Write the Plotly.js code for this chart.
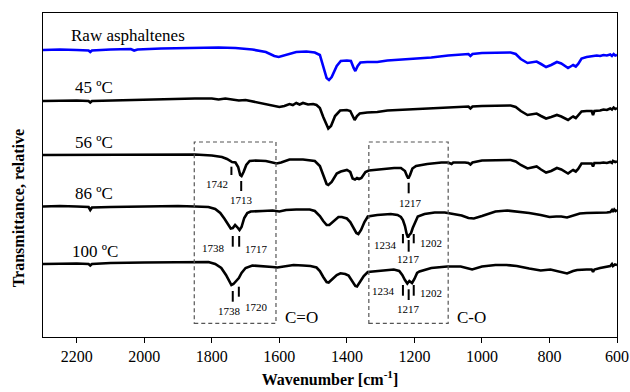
<!DOCTYPE html>
<html>
<head>
<meta charset="utf-8">
<script src="https://cdn.plot.ly/plotly-3.0.1.min.js"></script>
<style>html,body{margin:0;padding:0;background:#fff;}#chart{width:630px;height:392px;}</style>
</head>
<body>
<div id="chart"></div>
<script>
// Wavenumbers (cm-1) and relative transmittance (arbitrary, offset stacked)
const rawW = [2300,2250,2200,2165,2160,2155,2100,2040,2030,2020,1950,1850,1780,1730,1680,1640,1615,1602,1585,1550,1520,1495,1480,1470,1460,1453,1445,1430,1418,1400,1388,1380,1375,1368,1360,1340,1310,1280,1200,1150,1100,1060,1040,1034,1028,1000,950,915,900,885,865,850,838,825,810,795,778,765,745,735,730,722,715,705,690,670,660,650,640,630,620,615,610,605,600];
const rawT = [287,287.5,287,286.5,285,286.5,287.5,288,286.5,287.5,288.5,289.5,289.5,289,287.5,285,281,280,281.5,285,285.5,284.5,282,271,259,257,260,271,276,276.5,276,269,266,271,274.5,275,275,276.5,278,279.5,281.5,282.5,283,281,283,284,284.5,284.5,283,278,274,275,275.5,273,270,272,275,273.5,269,271,272,270.5,273,278.5,280,281,281.5,281,282,281.5,282.5,281,283,281.5,282];

const t45W = [2300,2250,2200,2165,2160,2155,2100,2000,1900,1850,1800,1780,1760,1740,1720,1700,1680,1660,1640,1620,1600,1585,1570,1560,1550,1540,1530,1515,1500,1490,1480,1470,1460,1455,1447,1435,1420,1400,1390,1382,1377,1370,1362,1340,1310,1280,1200,1150,1100,1040,1034,1028,1000,950,915,900,885,865,850,838,825,810,795,778,765,745,735,730,722,715,705,690,675,671,667,650,640,630,620,615,610,605,600];
const t45T = [236,236.5,236.5,236,234.5,236,236.5,237.5,238,238.5,238.5,237.5,238.5,237.5,236.5,237,235.5,234.5,233,231,230,231,233,232,234,232.5,234,232.5,233,232,229,220,211,208.5,211,221,226.5,227,226,220,217,221,223.5,224.5,225,226.5,228,229,229.5,230.5,228.5,230.5,231,231.5,231.5,230,226,222,223,223.5,221,218.5,220,222,220.5,217,219.5,220.5,219,221.5,225.5,226,226,222,226,226.5,227.5,227,228.5,227.5,229.5,228,229];

const t56W = [2300,2200,2100,2000,1900,1850,1800,1770,1755,1745,1740,1730,1722,1716,1712,1706,1698,1688,1670,1640,1620,1608,1595,1570,1530,1510,1495,1480,1470,1460,1455,1445,1430,1418,1400,1390,1383,1376,1370,1364,1357,1345,1335,1300,1260,1240,1228,1222,1218,1213,1206,1195,1162,1120,1100,1090,1085,1050,1040,1034,1028,1000,950,915,900,885,865,850,838,825,810,795,778,765,745,735,730,722,715,705,690,675,671,667,650,640,630,620,615,612,605,600];
const t56T = [182,182,182.5,182.5,182.5,182.5,181.5,180,178,176,175,174.5,170,162,161,165,172,176,176.5,176,174.5,173.5,174.5,177.5,177.5,177,176,171,161,153,152,155,163.5,165.5,167,165,158.5,157.5,159,158,159,165,166.5,168,169,169,166,161,158.5,162,168.5,171,173,174.5,174.5,173,174.5,174.5,174,172.5,174.5,176.5,177,177,175.5,172,168.5,170,170.5,167.5,164.5,166,169,167.5,163.5,166,167,165.5,168,173.5,173.5,173.5,170.5,174,174,174.5,174,175,174,176,175,175.5];

const t86W = [2300,2250,2200,2165,2160,2155,2100,2000,1900,1850,1810,1790,1775,1762,1752,1744,1738,1731,1725,1718,1712,1704,1695,1685,1650,1620,1600,1580,1550,1510,1495,1480,1470,1460,1452,1440,1425,1415,1400,1390,1380,1372,1366,1358,1348,1338,1310,1270,1250,1240,1234,1228,1223,1219,1215,1210,1205,1198,1190,1170,1140,1110,1080,1060,1040,1024,1000,960,925,897,860,826,800,780,765,748,730,710,690,670,650,630,620,615,612,608,604,600];
const t86T = [130.5,131,130.5,130,127,129.5,130,130.5,131,130.5,130,128,124,118,112,108.5,109,112,110,107,110,119,124,125.5,126,126.5,125.5,127,127.5,127.5,126,121,116,112,112,116,120,120,118.5,115,109,104,103,107,115,120.5,122,123,122,120,117,111,103,99.5,102,104,109,115,120.5,123,124.5,124.5,123,121.5,119,118.5,121,125.5,126.5,125.5,124,122,120,120.5,120.5,119.5,121.5,123.5,124,124,124.5,124.5,125,127,125,127.5,126,127];

const t100W = [2300,2250,2200,2165,2160,2155,2100,2000,1900,1850,1810,1790,1772,1758,1748,1742,1736,1728,1720,1712,1700,1680,1650,1620,1606,1580,1558,1530,1508,1490,1480,1470,1460,1454,1445,1430,1419,1405,1395,1385,1375,1370,1362,1350,1338,1300,1261,1245,1236,1228,1221,1215,1207,1200,1192,1185,1150,1103,1063,1040,1029,1000,960,927,897,860,826,797,770,748,730,718,690,675,671,667,650,630,620,615,612,606,600];
const t100T = [73,73.5,73.5,73,71.5,73,74,74.5,75,75.5,75,73,69,62,55,52,53,56,59,64,69,71.5,71,70,69.5,71,72,71.5,71,69.5,66,60,55,54.5,57,62,63.7,63,61.5,56,51,50.5,55,61,65,66.5,67.5,66,62,57,53.5,56,54,58,64,65.5,69,70.5,70.5,68.5,67.5,70.5,72,72,71,68.5,66.5,67.5,65.5,63.5,66,67,67.5,67.5,65,67.5,69,70.5,71,73,71,72.5,72];

const seriesNames = ["Raw asphaltenes", "45 ºC", "56 ºC", "86 ºC", "100 ºC"];
const seriesW = [rawW, t45W, t56W, t86W, t100W];
const seriesT = [rawT, t45T, t56T, t86T, t100T];
const seriesColors = ["#0000FF", "#000000", "#000000", "#000000", "#000000"];

// band labels: [text, wavenumber of label, y of label]
const bandLabels = [
  ["1742", 1784, 152.7], ["1713", 1713, 137], ["1217", 1212, 134.3],
  ["1738", 1795, 88.7], ["1717", 1668, 88], ["1234", 1286, 92], ["1202", 1150, 93.7], ["1217", 1217, 77.7],
  ["1738", 1747, 26], ["1720", 1668, 30.3], ["1234", 1291, 46], ["1202", 1150, 44.3], ["1217", 1217, 28]
];
// band markers: [wavenumber, yLow, yHigh]
const bandMarks = [
  [1742, 162, 170.3], [1713, 146, 156], [1217, 143.7, 154.3],
  [1738, 90.3, 101], [1719, 90.3, 101], [1234, 93.7, 103], [1217, 85.3, 97], [1202, 93.7, 103],
  [1738, 35.3, 46], [1720, 40.3, 50.3], [1234, 41.3, 52], [1217, 37, 47.7], [1202, 41.3, 52]
];
// regions: [label, wavenumber start, wavenumber end]
const regions = [["C=O", 1852, 1610], ["C-O", 1335, 1100]];
const xTicks = [2200, 2000, 1800, 1600, 1400, 1200, 1000, 800, 600];

const FONT = '"Liberation Serif", serif';

const traces = seriesNames.map((n, i) => ({
  x: seriesW[i], y: seriesT[i], name: n, type: "scatter", mode: "lines",
  line: {color: seriesColors[i], width: 2.6}, hoverinfo: "skip"
}));

const labelY = [302, 250, 195, 144, 86];
const labelX = [2222, 2210, 2210, 2210, 2219];
const annotations = seriesNames.map((n, i) => ({
  x: labelX[i], y: labelY[i], xref: "x", yref: "y", text: n, showarrow: false,
  xanchor: "left", yanchor: "middle", font: {family: FONT, size: 17, color: "#000"}
}));
bandLabels.forEach(b => annotations.push({
  x: b[1], y: b[2], xref: "x", yref: "y", text: b[0], showarrow: false,
  xanchor: "center", yanchor: "middle", font: {family: FONT, size: 11, color: "#000"}
}));
regions.forEach(r => annotations.push({
  x: r[2], y: 20, xref: "x", yref: "y", text: r[0], showarrow: false,
  xanchor: "left", xshift: 7, yanchor: "middle", font: {family: FONT, size: 17, color: "#000"}
}));
annotations.push({
  x: -0.043, y: 0.398, xref: "paper", yref: "paper", text: "<b>Transmittance, relative</b>",
  textangle: -90, showarrow: false, xanchor: "center", yanchor: "middle",
  font: {family: FONT, size: 16, color: "#000"}
});

const shapes = [];
bandMarks.forEach(m => shapes.push({
  type: "line", xref: "x", yref: "y", x0: m[0], x1: m[0], y0: m[1], y1: m[2],
  line: {color: "#000", width: 2}
}));
regions.forEach(r => shapes.push({
  type: "rect", xref: "x", yref: "y", x0: r[1], x1: r[2], y0: 13.7, y1: 195,
  line: {color: "#555", width: 1.2, dash: "4px,3px"}, fillcolor: "rgba(0,0,0,0)"
}));

const layout = {
  width: 630, height: 392,
  margin: {l: 43, r: 13, t: 13, b: 55},
  paper_bgcolor: "#fff", plot_bgcolor: "#fff",
  showlegend: false,
  font: {family: FONT, color: "#000"},
  xaxis: {
    range: [2300, 600], tickvals: xTicks, ticks: "outside", ticklen: 5, tickcolor: "#000",
    tickfont: {family: FONT, size: 16, color: "#000"},
    showline: true, mirror: true, linecolor: "#000", linewidth: 1, showgrid: false, zeroline: false,
    title: {text: "<b>Wavenumber [cm<sup>-1</sup>]</b>", font: {family: FONT, size: 16, color: "#000"}, standoff: 9}
  },
  yaxis: {
    range: [0, 324], showticklabels: false, ticks: "", showgrid: false, zeroline: false,
    showline: true, mirror: true, linecolor: "#000", linewidth: 1
  },
  annotations: annotations,
  shapes: shapes
};

Plotly.newPlot("chart", traces, layout, {displayModeBar: false, staticPlot: true});
</script>
</body>
</html>
